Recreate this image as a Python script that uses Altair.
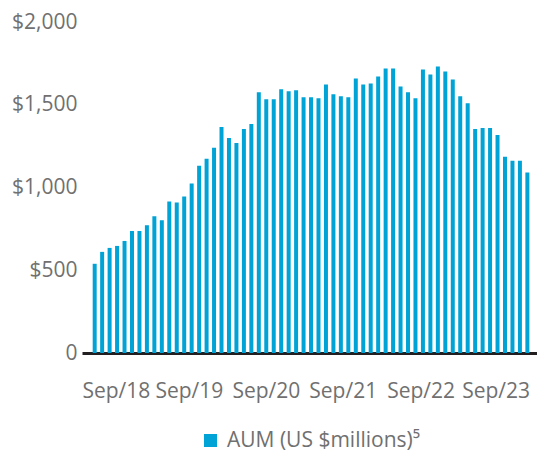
import altair as alt
import pandas as pd

aum = [539, 611, 635, 647, 677, 737, 737, 772, 826, 802,
       916, 910, 946, 1024, 1132, 1174, 1240, 1365, 1299, 1269,
       1353, 1383, 1575, 1533, 1533, 1593, 1581, 1587, 1545, 1545,
       1539, 1623, 1563, 1551, 1545, 1659, 1623, 1629, 1671, 1719,
       1719, 1611, 1575, 1539, 1713, 1683, 1731, 1701, 1653, 1551,
       1509, 1353, 1359, 1359, 1317, 1186, 1162, 1162, 1090]

tick_labels = ["Sep/18", "Sep/19", "Sep/20", "Sep/21", "Sep/22", "Sep/23"]
tick_pos = [2.84, 12.63, 22.94, 33.25, 43.69, 53.74]

series_name = "AUM (US $millions)\u2075"

df = pd.DataFrame({"idx": list(range(len(aum))), "aum": aum, "series": series_name})

expr = "''"
for p, l in reversed(list(zip(tick_pos, tick_labels))):
    expr = f"abs(datum.value - {p}) < 0.5 ? '{l}' : ({expr})"

FONT = "Open Sans"
GRAY = "#707070"
BLUE = "#00a3d5"

chart = alt.Chart(df).mark_bar(width=4).encode(
    x=alt.X("idx:Q",
            scale=alt.Scale(domain=[-1.03, 58.62], nice=False, zero=False),
            axis=alt.Axis(values=tick_pos, labelExpr=expr, title=None, ticks=False,
                          grid=False, domainColor="#231f20", domainWidth=3,
                          labelFont=FONT, labelFontSize=21, labelColor=GRAY,
                          labelPadding=27, labelFlush=False)),
    y=alt.Y("aum:Q",
            scale=alt.Scale(domain=[0, 2000], nice=False),
            axis=alt.Axis(values=[0, 500, 1000, 1500, 2000], title=None, ticks=False,
                          grid=False, domain=False,
                          labelExpr="datum.value == 0 ? '0' : '$' + format(datum.value, ',')",
                          labelFont=FONT, labelFontSize=21, labelColor=GRAY,
                          labelPadding=5)),
    color=alt.Color("series:N", scale=alt.Scale(range=[BLUE]),
                    legend=alt.Legend(title=None, orient="none", legendX=118, legendY=408,
                                      symbolType="square", symbolSize=169,
                                      symbolStrokeWidth=0, labelLimit=400,
                                      labelFont=FONT, labelFontSize=21, labelColor=GRAY,
                                      labelOffset=6)),
).properties(
    width=455, height=331,
    autosize=alt.AutoSizeParams(type="none"),
    padding={"left": 74, "top": 14, "right": 0, "bottom": 99},
).configure_view(stroke=None)

chart.save("out.html", embed_options={"renderer": "svg", "actions": False})
